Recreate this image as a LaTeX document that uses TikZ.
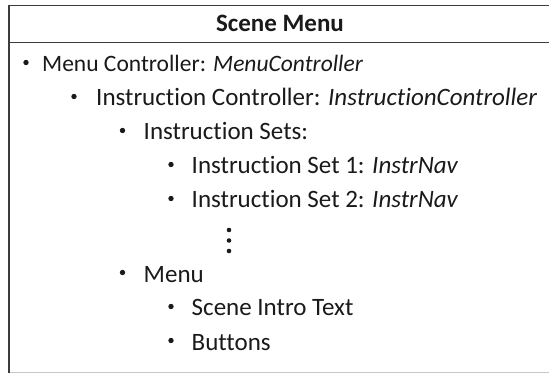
\documentclass[tikz,border=0pt]{standalone}
\usepackage{fontspec}
\setmainfont{Carlito}[Ligatures=NoCommon]
\definecolor{txt}{HTML}{1A1A1A}
\definecolor{rule}{HTML}{3C3C3C}
\definecolor{lightrule}{HTML}{C8C8C8}
\begin{document}
\begin{tikzpicture}[x=1pt,y=-1pt,
  item/.style={anchor=base west,inner sep=0pt,text=txt,font=\fontsize{25}{30}\selectfont},
  itemtop/.style={anchor=base west,inner sep=0pt,text=txt,font=\fontsize{23.5}{28}\selectfont},
  head/.style={anchor=base,inner sep=0pt,text=txt,font=\fontsize{25}{30}\selectfont\bfseries},
  frame/.style={draw=rule,line width=1.6pt},
  dot/.style={fill=txt,draw=none}]
\useasboundingbox (0,0) rectangle (549,374);
\fill[white] (0,0) rectangle (549,374);
% frame
\draw[frame] (9,5.5) -- (560,5.5);
\draw[frame] (9,42.5) -- (560,42.5);
\draw[draw=rule,line width=2pt] (9,4.7) -- (9,373);
\draw[draw=lightrule,line width=1.2pt] (10,372.8) -- (560,372.8);
% header
\node[head] (title) at (280,32) {Scene Menu};
% bullets (shapes) and items
\fill[dot] (26,62.5) circle (2.7);
\node[itemtop] (t1) at (42,72) {Menu Controller: \textit{MenuController}};
\fill[dot] (74,96.5) circle (2.7);
\node[item] (t2) at (96,106) {Instruction Controller: \textit{InstructionController}};
\fill[dot] (122.5,130.5) circle (2.7);
\node[item] (t3) at (143.5,140) {Instruction Sets:};
\fill[dot] (171,164.5) circle (2.7);
\node[item] (t4) at (191.5,174) {Instruction Set 1: \textit{InstrNav}};
\fill[dot] (171,198.5) circle (2.7);
\node[item] (t5) at (191.5,208) {Instruction Set 2: \textit{InstrNav}};
\fill[dot] (229,230) circle (2.3);
\fill[dot] (229,240.5) circle (2.3);
\fill[dot] (229,251) circle (2.3);
\fill[dot] (122.5,272.5) circle (2.7);
\node[item] (t6) at (143.5,282) {Menu};
\fill[dot] (171,306.5) circle (2.7);
\node[item] (t7) at (191.5,316) {Scene Intro Text};
\fill[dot] (171,340.5) circle (2.7);
\node[item] (t8) at (191.5,350) {Buttons};
\end{tikzpicture}
\end{document}
